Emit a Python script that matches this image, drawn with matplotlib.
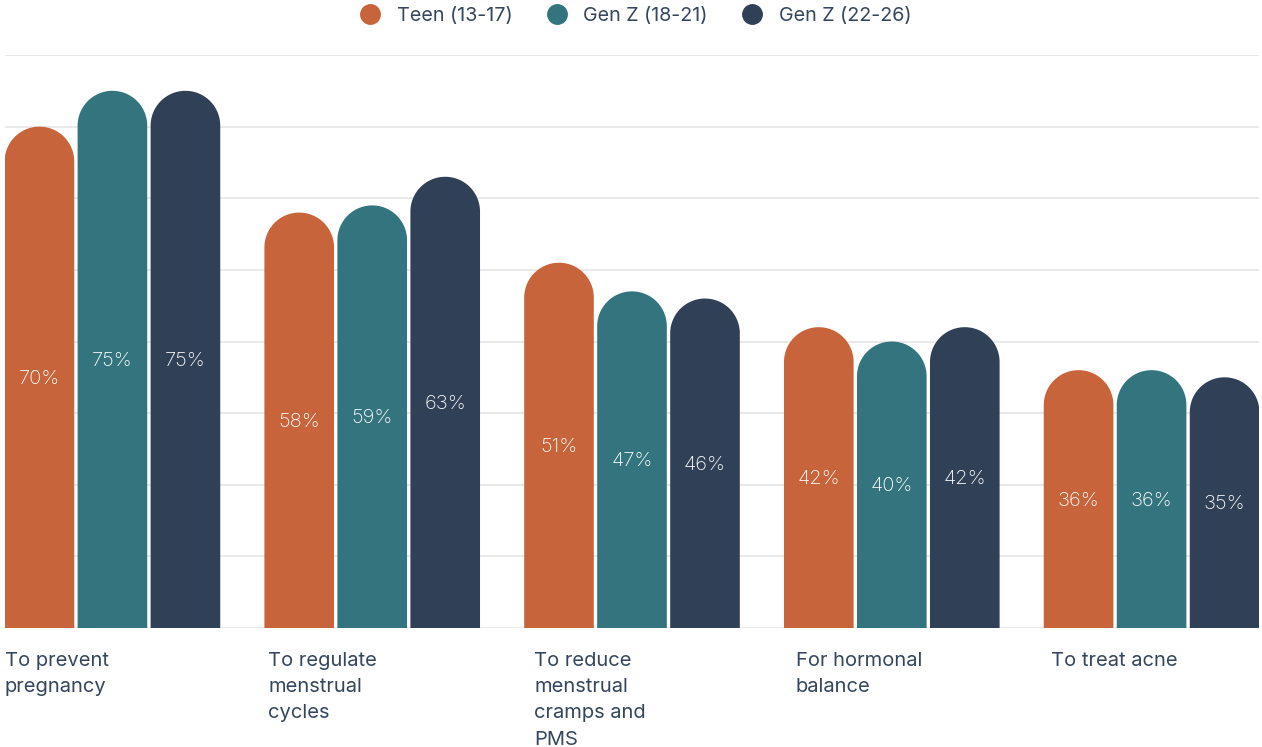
import numpy as np
import matplotlib.pyplot as plt
from matplotlib.patches import PathPatch
from matplotlib.path import Path
from matplotlib.lines import Line2D

plt.rcParams['font.family'] = ['Inter', 'DejaVu Sans']

categories = ["To prevent\npregnancy", "To regulate\nmenstrual\ncycles",
              "To reduce\nmenstrual\ncramps and\nPMS", "For hormonal\nbalance", "To treat acne"]
series = ["Teen (13-17)", "Gen Z (18-21)", "Gen Z (22-26)"]
teen = [70, 58, 51, 42, 36]
genz_young = [75, 59, 47, 40, 36]
genz_old = [75, 63, 46, 42, 35]
colors = ["#C8643B", "#33747E", "#2F4057"]
text_col = "#34465C"

# horizontal nudge (px) of each category label from its group's left edge
label_nudge = [0, 4, 10, 12, 7]

W, H = 1262, 747
fig = plt.figure(figsize=(W / 100, H / 100), dpi=100)
ax = fig.add_axes([5 / W, (H - 628) / H, 1254 / W, 573 / H])

xlim = (-0.4135, 4.4135)
ylim = (0, 80)
ax.set_xlim(*xlim)
ax.set_ylim(*ylim)
for s in ax.spines.values():
    s.set_visible(False)
ax.set_xticks([])
ax.set_yticks(np.arange(0, 81, 10))
ax.tick_params(left=False, labelleft=False)
ax.grid(axis='y', color='#E3E3E3', linewidth=1.1)
ax.set_axisbelow(True)

width = 0.268
offset = 0.281
# ratio so the caps come out as round semicircles on screen
px_x = 1254 / (xlim[1] - xlim[0])
px_y = 573 / (ylim[1] - ylim[0])


def rounded_bar(ax, xc, val, color):
    rx = width / 2
    ry = rx * px_x / px_y
    t = np.linspace(0, np.pi, 60)
    arc_x = xc + rx * np.cos(t)
    arc_y = (val - ry) + ry * np.sin(t)
    xs = np.concatenate([[xc + rx], arc_x, [xc - rx, xc + rx]])
    ys = np.concatenate([[0], arc_y, [0, 0]])
    verts = np.column_stack([xs, ys])
    codes = [Path.MOVETO] + [Path.LINETO] * (len(verts) - 2) + [Path.CLOSEPOLY]
    ax.add_patch(PathPatch(Path(verts, codes), facecolor=color, edgecolor='none', zorder=3))


x = np.arange(len(categories))
for i, vals in enumerate([teen, genz_young, genz_old]):
    for xc, v in zip(x + (i - 1) * offset, vals):
        rounded_bar(ax, xc, v, colors[i])
        ax.text(xc, v / 2 - 0.2, f"{v}%", color='white', ha='center', va='center',
                fontsize=14.5, fontweight='light', zorder=4)

# category labels under the left edge of each group
for xc, lab, dx in zip(x, categories, label_nudge):
    ax.text(xc - offset - width / 2 + dx / px_x, -3.3, lab, ha='left', va='top',
            fontsize=14.5, color=text_col, linespacing=1.6, clip_on=False)

handles = [Line2D([], [], marker='o', linestyle='none', markersize=14,
                  markerfacecolor=c, markeredgecolor=c) for c in colors]
fig.legend(handles, series, loc='center', bbox_to_anchor=(0.5, 1 - 16 / H),
           ncol=3, frameon=False, fontsize=14.2, labelcolor=text_col,
           handletextpad=0.35, columnspacing=1.25)

fig.savefig("out.png", dpi=100)
